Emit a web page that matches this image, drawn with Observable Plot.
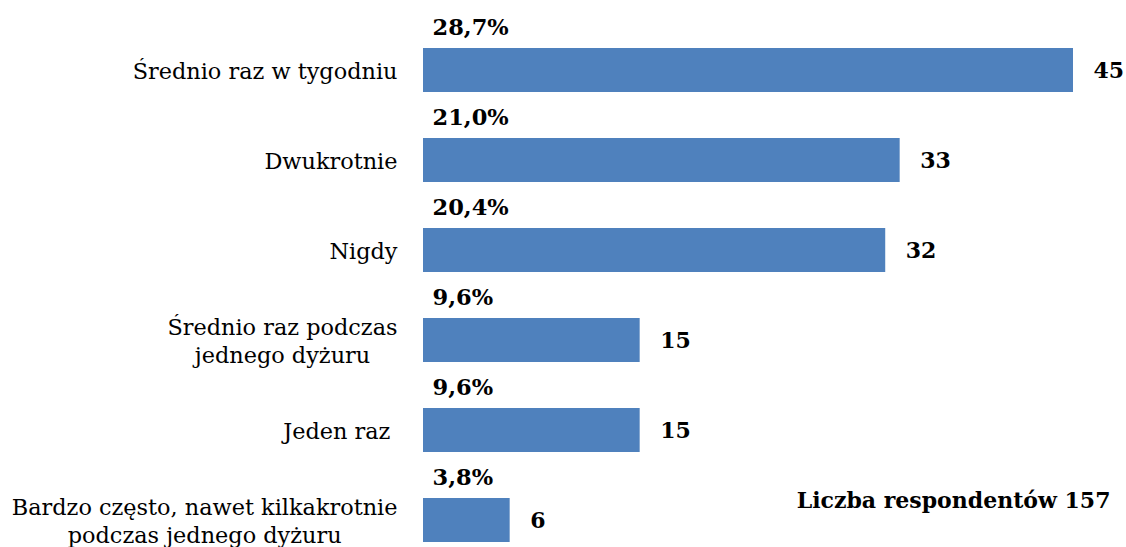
<!DOCTYPE html>
<html>
<head>
<meta charset="utf-8">
<script src="https://cdn.jsdelivr.net/npm/d3@7"></script>
<script src="https://cdn.jsdelivr.net/npm/@observablehq/plot@0.6"></script>
<style>
  html, body { margin: 0; padding: 0; background: #ffffff; }
  #chart svg { display: block; }
  #chart svg text { white-space: pre; }
</style>
</head>
<body>
<div id="chart"></div>
<script>
const categories = [
  "Średnio raz w tygodniu",
  "Dwukrotnie",
  "Nigdy",
  "Średnio raz podczas\njednego dyżuru",
  "Jeden raz ",
  "Bardzo często, nawet kilkakrotnie\npodczas jednego dyżuru"
];
const counts = [45, 33, 32, 15, 15, 6];
const percents = [28.7, 21.0, 20.4, 9.6, 9.6, 3.8];
const totalLabel = "Liczba respondentów 157";

const data = categories.map((c, i) => ({category: c, count: counts[i], pct: percents[i]}));

const labelFont = "DejaVu Serif";
const labelSize = 22.4;
const ctx = document.createElement("canvas").getContext("2d");
ctx.font = `${labelSize}px '${labelFont}'`;
const labelMarks = data.map(d => {
  const w = d3.max(d.category.split("\n"), s => ctx.measureText(s).width);
  return Plot.text([d], {
    y: "category",
    frameAnchor: "left",
    text: "category",
    textAnchor: "middle",
    lineAnchor: "middle",
    lineHeight: 1.25,
    dx: -(26 + w / 2),
    fontSize: labelSize,
    fill: "#000"
  });
});

const chart = Plot.plot({
  width: 1126,
  height: 547,
  marginLeft: 423,
  marginRight: 53,
  marginTop: 25,
  marginBottom: 0,
  x: {domain: [0, 45], axis: null},
  y: {domain: categories, range: [25, 565], padding: 0, axis: null},
  style: {fontFamily: labelFont, background: "#ffffff", color: "#000"},
  marks: [
    Plot.barX(data, {x: "count", y: "category", fill: "#4F81BD", insetTop: 23, insetBottom: 23}),
    Plot.text(data, {
      x: "count", y: "category", text: d => String(d.count),
      textAnchor: "start", lineAnchor: "middle", dx: 20,
      fontWeight: "bold", fontSize: 22, fill: "#000"
    }),
    Plot.text(data, {
      x: 0, y: "category", text: d => d.pct.toFixed(1).replace(".", ",") + "%",
      textAnchor: "start", lineAnchor: "bottom", dx: 9, dy: -36,
      fontWeight: "bold", fontSize: 22.5, fill: "#000"
    }),
    ...labelMarks,
    Plot.text([totalLabel], {
      text: d => d, frameAnchor: "bottom-right", textAnchor: "end", lineAnchor: "bottom",
      dx: 37, dy: -40, fontWeight: "bold", fontSize: 22, fill: "#000"
    })
  ]
});
document.getElementById("chart").appendChild(chart);
</script>
</body>
</html>
